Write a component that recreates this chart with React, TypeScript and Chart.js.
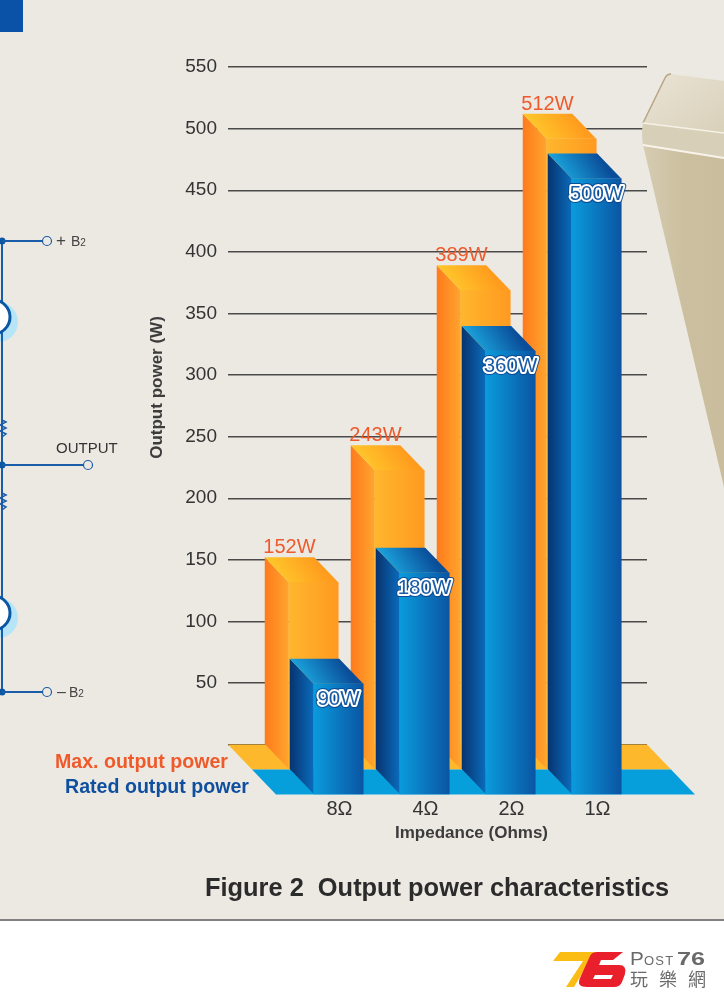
import React, { useEffect, useRef } from "react";
import { Chart, registerables } from "chart.js";

Chart.register(...registerables);

const categories = ["8Ω", "4Ω", "2Ω", "1Ω"];
const maxOutput = [152, 243, 389, 512];
const ratedOutput = [90, 180, 360, 500];
const yTicksMax = 550;
const yStep = 50;

const FONT = '"Liberation Sans", Arial, sans-serif';
const DX = 24;
const DY = 25;
const PLANE_DX = 25;
const BAR_W = 49.5;

const ORANGE = {
  side: ["#ff7a1c", "#ffa52e"],
  front: ["#ffb62d", "#ff9a20"],
  top: ["#ffcb2c", "#ff9c1e"],
  floor: "#fdb92b",
};
const BLUE = {
  side: ["#07336f", "#0a6cbc"],
  front: ["#0a9bdc", "#0a55a3"],
  top: ["#1cabe3", "#0a4e99"],
  floor: "#069fdc",
};

function hGrad(ctx: CanvasRenderingContext2D, x0: number, x1: number, c: string[]) {
  const g = ctx.createLinearGradient(x0, 0, x1, 0);
  g.addColorStop(0, c[0]);
  g.addColorStop(1, c[1]);
  return g;
}

function poly(ctx: CanvasRenderingContext2D, pts: number[][], fill: any) {
  ctx.beginPath();
  pts.forEach((p, i) => (i ? ctx.lineTo(p[0], p[1]) : ctx.moveTo(p[0], p[1])));
  ctx.closePath();
  ctx.fillStyle = fill;
  ctx.fill();
}

const solidBars = {
  id: "solidBars",
  beforeDatasetsDraw(chart: any) {
    const { ctx, chartArea: a, scales } = chart;
    const y0 = scales.y.getPixelForValue(0);
    poly(ctx, [[a.left, y0], [a.right, y0], [a.right + DX, y0 + DY], [a.left + DX, y0 + DY]], ORANGE.floor);
    poly(ctx, [[a.left + DX, y0 + DY], [a.right + DX, y0 + DY], [a.right + 2 * DX, y0 + 2 * DY], [a.left + 2 * DX, y0 + 2 * DY]], BLUE.floor);
  },
  beforeDatasetDraw(chart: any, args: any) {
    const { ctx } = chart;
    const ds = chart.data.datasets[args.index];
    const pal = ds.palette;
    ctx.save();
    ctx.translate(ds.plane * PLANE_DX, ds.plane * DY);
    args.meta.data.forEach((bar: any) => {
      const l = bar.x - bar.width / 2;
      const r = bar.x + bar.width / 2;
      const t = bar.y;
      const b = bar.base;
      poly(ctx, [[l, t], [l + DX, t + DY], [l + DX, b + DY], [l, b]], hGrad(ctx, l, l + DX, pal.side));
      const tg = ctx.createLinearGradient(l + DX / 2, t + DY, r, t);
      tg.addColorStop(0, pal.top[0]);
      tg.addColorStop(1, pal.top[1]);
      poly(ctx, [[l, t], [r, t], [r + DX, t + DY], [l + DX, t + DY]], tg);
    });
    ctx.translate(DX, DY);
  },
  afterDatasetDraw(chart: any) {
    chart.ctx.restore();
  },
  afterDatasetsDraw(chart: any) {
    const { ctx } = chart;
    ctx.save();
    ctx.textAlign = "center";
    ctx.textBaseline = "alphabetic";
    ctx.font = `20px ${FONT}`;
    ctx.fillStyle = "#ee5a2c";
    chart.getDatasetMeta(0).data.forEach((bar: any, i: number) => {
      ctx.fillText(`${maxOutput[i]}W`, bar.x, bar.y - 4);
    });
    ctx.lineJoin = "round";
    ctx.font = `20.5px ${FONT}`;
    chart.getDatasetMeta(1).data.forEach((bar: any, i: number) => {
      const x = bar.x + PLANE_DX + DX;
      const y = bar.y + 2 * DY + 21;
      const t = `${ratedOutput[i]}W`;
      ctx.strokeStyle = "rgba(10,70,140,0.9)";
      ctx.lineWidth = 6;
      ctx.strokeText(t, x, y);
      ctx.strokeStyle = "#ffffff";
      ctx.lineWidth = 4;
      ctx.strokeText(t, x, y);
      ctx.fillStyle = "#1a5ca6";
      ctx.fillText(t, x, y);
    });
    ctx.font = `bold 17px ${FONT}`;
    ctx.fillStyle = "#3c3c3c";
    ctx.textBaseline = "middle";
    ctx.fillText("Impedance (Ohms)", 471.5, 833);
    ctx.translate(157, 387.5);
    ctx.rotate(-Math.PI / 2);
    ctx.fillText("Output power (W)", 0, 0);
    ctx.restore();
  },
};

function frontFill(pal: any) {
  return (c: any) => {
    const chart = c.chart;
    if (!chart.chartArea || !chart.scales.x) return pal.front[0];
    const x = chart.scales.x.getPixelForValue(c.dataIndex);
    return hGrad(chart.ctx, x - BAR_W / 2, x + BAR_W / 2, pal.front);
  };
}

const textStyle = (extra: React.CSSProperties): React.CSSProperties => ({
  position: "absolute",
  fontFamily: FONT,
  whiteSpace: "pre",
  lineHeight: 1,
  ...extra,
});

function Circuit() {
  const wire = "#1a5ca8";
  const zig = (y: number) =>
    `M2 ${y} L6 ${y + 2} L0 ${y + 5} L6 ${y + 8} L0 ${y + 11} L6 ${y + 14} L2 ${y + 17}`;
  return (
    <g>
      <rect x={0} y={0} width={23} height={32} fill="#0a52a8" />
      <circle cx={-2} cy={322} r={20} fill="#b6e5f8" />
      <circle cx={-2} cy={618} r={20} fill="#b6e5f8" />
      <line x1={2} y1={241} x2={2} y2={692} stroke={wire} strokeWidth={2} />
      <path d={zig(420)} fill="none" stroke={wire} strokeWidth={1.5} />
      <path d={zig(493)} fill="none" stroke={wire} strokeWidth={1.5} />
      <circle cx={-7} cy={317} r={17} fill="#fff" stroke="#0c57a3" strokeWidth={3} />
      <circle cx={-7} cy={613} r={17} fill="#fff" stroke="#0c57a3" strokeWidth={3} />
      {[241, 465, 692].map((y) => (
        <circle key={y} cx={2} cy={y} r={3.5} fill="#0c57a3" />
      ))}
      <line x1={2} y1={241} x2={43} y2={241} stroke={wire} strokeWidth={2} />
      <line x1={2} y1={465} x2={84} y2={465} stroke={wire} strokeWidth={2} />
      <line x1={2} y1={692} x2={43} y2={692} stroke={wire} strokeWidth={2} />
      {[[47, 241], [88, 465], [47, 692]].map(([x, y]) => (
        <circle key={x * y} cx={x} cy={y} r={4.5} fill="#ece9e3" stroke={wire} strokeWidth={1.2} />
      ))}
    </g>
  );
}

function Enclosure() {
  return (
    <g>
      <defs>
        <linearGradient id="boxTop" x1="0" y1="0" x2="1" y2="1">
          <stop offset="0" stopColor="#eae4d6" />
          <stop offset="1" stopColor="#d9d0b9" />
        </linearGradient>
        <linearGradient id="boxFront" x1="0" y1="0" x2="1" y2="0">
          <stop offset="0" stopColor="#d6ccb2" />
          <stop offset="0.5" stopColor="#cbbf9f" />
          <stop offset="1" stopColor="#c9bd9d" />
        </linearGradient>
      </defs>
      <path d="M671 74 L724 81 L724 133 L643 123 L665 78 Q667 74 671 74 Z" fill="url(#boxTop)" />
      <path d="M643 123 L665 78 Q667 74 671 74" fill="none" stroke="#b8a385" strokeWidth={1.5} />
      <path d="M643 123 L724 133 L724 158 L643 145 Q641 134 643 123 Z" fill="#d8cfb9" />
      <path d="M643 145 L724 158 L724 487 Z" fill="url(#boxFront)" />
      <path d="M643 123 L724 133" stroke="#f6f1e6" strokeWidth={1.5} fill="none" />
      <path d="M643 145 L724 158" stroke="#f8f4ea" strokeWidth={2} fill="none" />
    </g>
  );
}

function Logo() {
  return (
    <g>
      <polygon points="560,952 595,952 574,987 566,987 583,961 553,961" fill="#fbbd14" />
      <path
        d="M623 952 L613 960 L601 960 L599 965 L619 965 Q627 965 625 974 L622 982 Q620 987 614 987 L587 987 Q576 987 580 978 L590 956 Q592 952 597 952 Z M595 975 L613 975 L611 979 L593 979 Z"
        fill="#e9202c"
        fillRule="evenodd"
      />
    </g>
  );
}

export default function App() {
  const ref = useRef<HTMLCanvasElement>(null);
  useEffect(() => {
    const chart = new Chart(ref.current as HTMLCanvasElement, {
      type: "bar",
      data: {
        labels: categories,
        datasets: [
          {
            label: "Max. output power",
            data: maxOutput.map((y, x) => ({ x, y })),
            palette: ORANGE,
            plane: 0,
            order: 2,
            clip: false,
            backgroundColor: frontFill(ORANGE),
            barThickness: BAR_W,
            grouped: false,
          },
          {
            label: "Rated output power",
            data: ratedOutput.map((y, x) => ({ x, y })),
            palette: BLUE,
            plane: 1,
            order: 1,
            clip: false,
            backgroundColor: frontFill(BLUE),
            barThickness: BAR_W,
            grouped: false,
          },
        ] as any,
      },
      options: {
        animation: false,
        responsive: false,
        events: [],
        layout: { padding: { left: 0, top: 67, right: 77, bottom: 155.4 } },
        plugins: { legend: { display: false }, title: { display: false }, tooltip: { enabled: false } },
        scales: {
          x: {
            type: "linear",
            offset: false,
            min: -0.715,
            max: 4.157,
            grid: { display: false },
            border: { display: false },
            afterBuildTicks: (s: any) => {
              s.ticks = categories.map((_, value) => ({ value }));
            },
            afterFit: (s: any) => {
              s.height = 100;
            },
            ticks: {
              callback: (v: any) => categories[v],
              autoSkip: false,
              maxRotation: 0,
              labelOffset: 50,
              padding: 45,
              color: "#333333",
              font: { family: FONT, size: 20 },
            },
          },
          y: {
            min: 0,
            max: yTicksMax,
            afterFit: (s: any) => {
              s.width = 228;
            },
            border: { display: false },
            grid: { color: "#4a4a4a", lineWidth: 1.4, drawTicks: false },
            ticks: {
              stepSize: yStep,
              padding: 11,
              color: "#333333",
              font: { family: FONT, size: 19 },
              callback: (v: any) => (v === 0 ? "" : String(v)),
            },
          },
        },
      } as any,
      plugins: [solidBars],
    });
    return () => chart.destroy();
  }, []);

  const gray = "#6a6a6a";
  return (
    <div style={{ position: "absolute", left: 0, top: 0, width: 724, height: 1000, background: "#fff", overflow: "hidden" }}>
      <div style={{ position: "absolute", left: 0, top: 0, width: 724, height: 919, background: "#ece9e3" }} />
      <div style={{ position: "absolute", left: 0, top: 919, width: 724, height: 2, background: "#808080" }} />
      <canvas ref={ref} width={724} height={1000} style={{ position: "absolute", left: 0, top: 0, display: "block" }} />
      <svg width={724} height={1000} style={{ position: "absolute", left: 0, top: 0 }}>
        <Circuit />
        <Enclosure />
        <Logo />
      </svg>
      <div style={textStyle({ right: 724 - 228, top: 752, fontSize: 19.6, fontWeight: 700, color: "#ef5a2b" })}>Max. output power</div>
      <div style={textStyle({ right: 724 - 249, top: 777, fontSize: 19.6, fontWeight: 700, color: "#0f4f9f" })}>Rated output power</div>
      <div style={textStyle({ left: 205, top: 875, fontSize: 25.4, fontWeight: 700, color: "#2b2b2b" })}>Figure 2  Output power characteristics</div>
      <div style={textStyle({ left: 56, top: 232, fontSize: 17, color: "#444" })}>+</div>
      <div style={textStyle({ left: 71, top: 234, fontSize: 14, color: "#444" })}>B<span style={{ fontSize: 10 }}>2</span></div>
      <div style={textStyle({ left: 56, top: 440, fontSize: 15, color: "#333" })}>OUTPUT</div>
      <div style={textStyle({ left: 57, top: 684, fontSize: 16, color: "#444" })}>–</div>
      <div style={textStyle({ left: 69, top: 685, fontSize: 14, color: "#444" })}>B<span style={{ fontSize: 10 }}>2</span></div>
      <div style={textStyle({ left: 630, top: 950, fontSize: 18, color: gray, transform: "scaleX(1.15)", transformOrigin: "left" })}>P</div>
      <div style={textStyle({ left: 644, top: 954, fontSize: 13, color: gray, letterSpacing: 1.2 })}>OST</div>
      <div style={textStyle({ left: 677, top: 950, fontSize: 18, fontWeight: 700, color: gray, transform: "scaleX(1.4)", transformOrigin: "left" })}>76</div>
      <div style={textStyle({ left: 630, top: 969, fontSize: 18, color: gray, fontFamily: '"Noto Sans CJK TC", sans-serif', letterSpacing: 11 })}>玩樂網</div>
    </div>
  );
}
